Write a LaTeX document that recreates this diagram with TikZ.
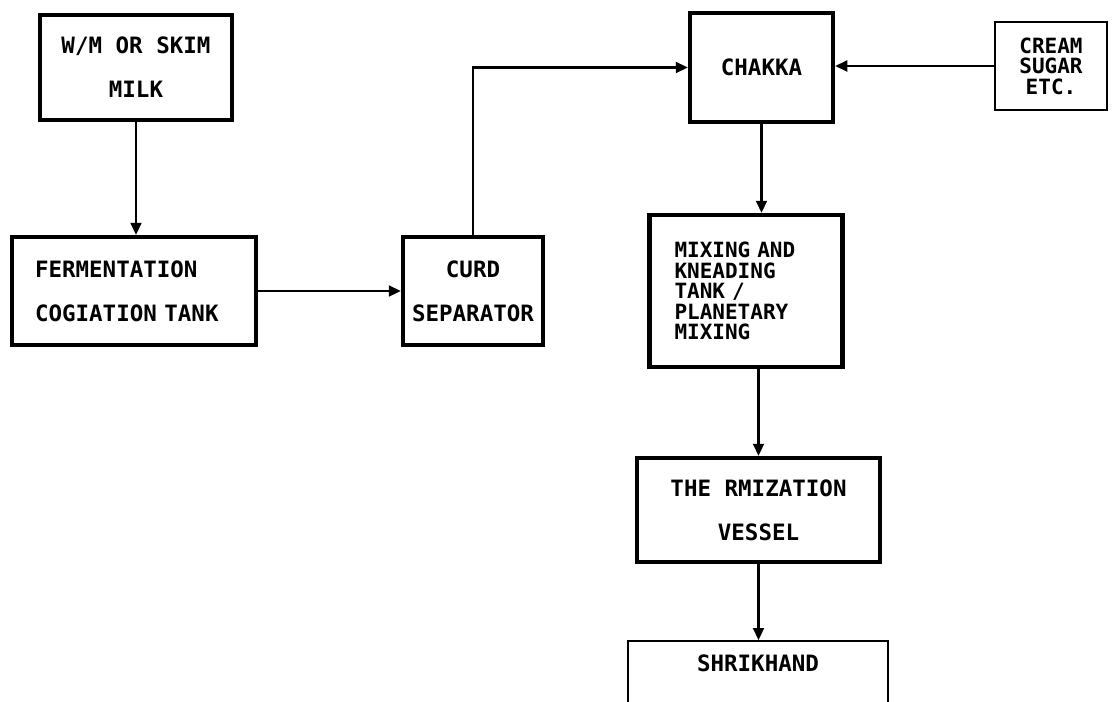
\documentclass[tikz,border=0pt]{standalone}
\usepackage{fontspec}
\usetikzlibrary{arrows.meta}
\newfontfamily\diagfont{DejaVu Sans Mono}[WordSpace={1,0,0}]
\begin{document}
\begin{tikzpicture}[x=1pt,y=-1pt,
  box/.style={draw, rectangle, line width=4.5pt, inner sep=0pt,
    font=\diagfont\bfseries\fontsize{22.5}{44}\selectfont},
  thinbox/.style={draw, rectangle, line width=2pt, inner sep=0pt,
    font=\diagfont\bfseries\fontsize{22.5}{44}\selectfont},
  small/.style={font=\diagfont\bfseries\fontsize{21}{20.5}\selectfont},
  flow/.style={line width=2.2pt, -{Triangle[length=12pt,width=11pt]}}]
\useasboundingbox (0,0) rectangle (1118,701);
\clip (0,0) rectangle (1118,701);
\fill[white] (0,0) rectangle (1118,701);

\node[box, minimum width=192pt, minimum height=105pt, align=center] (milk) at (136,67.5)
  {W/M OR SKIM\\MILK};
\node[box, minimum width=244pt, minimum height=108pt, text width=198pt, align=left] (ferm) at (134,291)
  {FERMENTATION\\COGIATION~TANK};
\node[box, minimum width=140pt, minimum height=108pt, align=center] (curd) at (473,291)
  {CURD\\SEPARATOR};
\node[box, minimum width=143pt, minimum height=109pt, align=center] (chakka) at (761.5,67.5)
  {CHAKKA};
\node[thinbox, small, minimum width=112pt, minimum height=88pt, align=center] (cream) at (1051,66)
  {CREAM\\SUGAR\\ETC.};
\node[box, small, minimum width=193pt, minimum height=152pt, text width=143pt, align=left] (mix) at (746,291)
  {MIXING~AND\\KNEADING\\TANK~/\\PLANETARY\\MIXING};
\node[box, minimum width=243pt, minimum height=104pt, align=center] (therm) at (758.5,510)
  {THE RMIZATION\\VESSEL};
\node[thinbox, minimum width=260pt, text height=30pt, text depth=70pt, anchor=north] (shrik) at (758,640)
  {SHRIKHAND};

\draw[flow] (milk.south) -- (milk.south |- ferm.north);
\draw[flow] (ferm.east) -- (curd.west);
\draw[flow] (curd.north) |- (chakka.west);
\draw[flow] (cream.west) -- (cream.west -| chakka.east);
\draw[flow] (chakka.south) -- (chakka.south |- mix.north);
\draw[flow] (therm.north |- mix.south) -- (therm.north);
\draw[flow] (therm.south) -- (therm.south |- shrik.north);
\end{tikzpicture}
\end{document}
